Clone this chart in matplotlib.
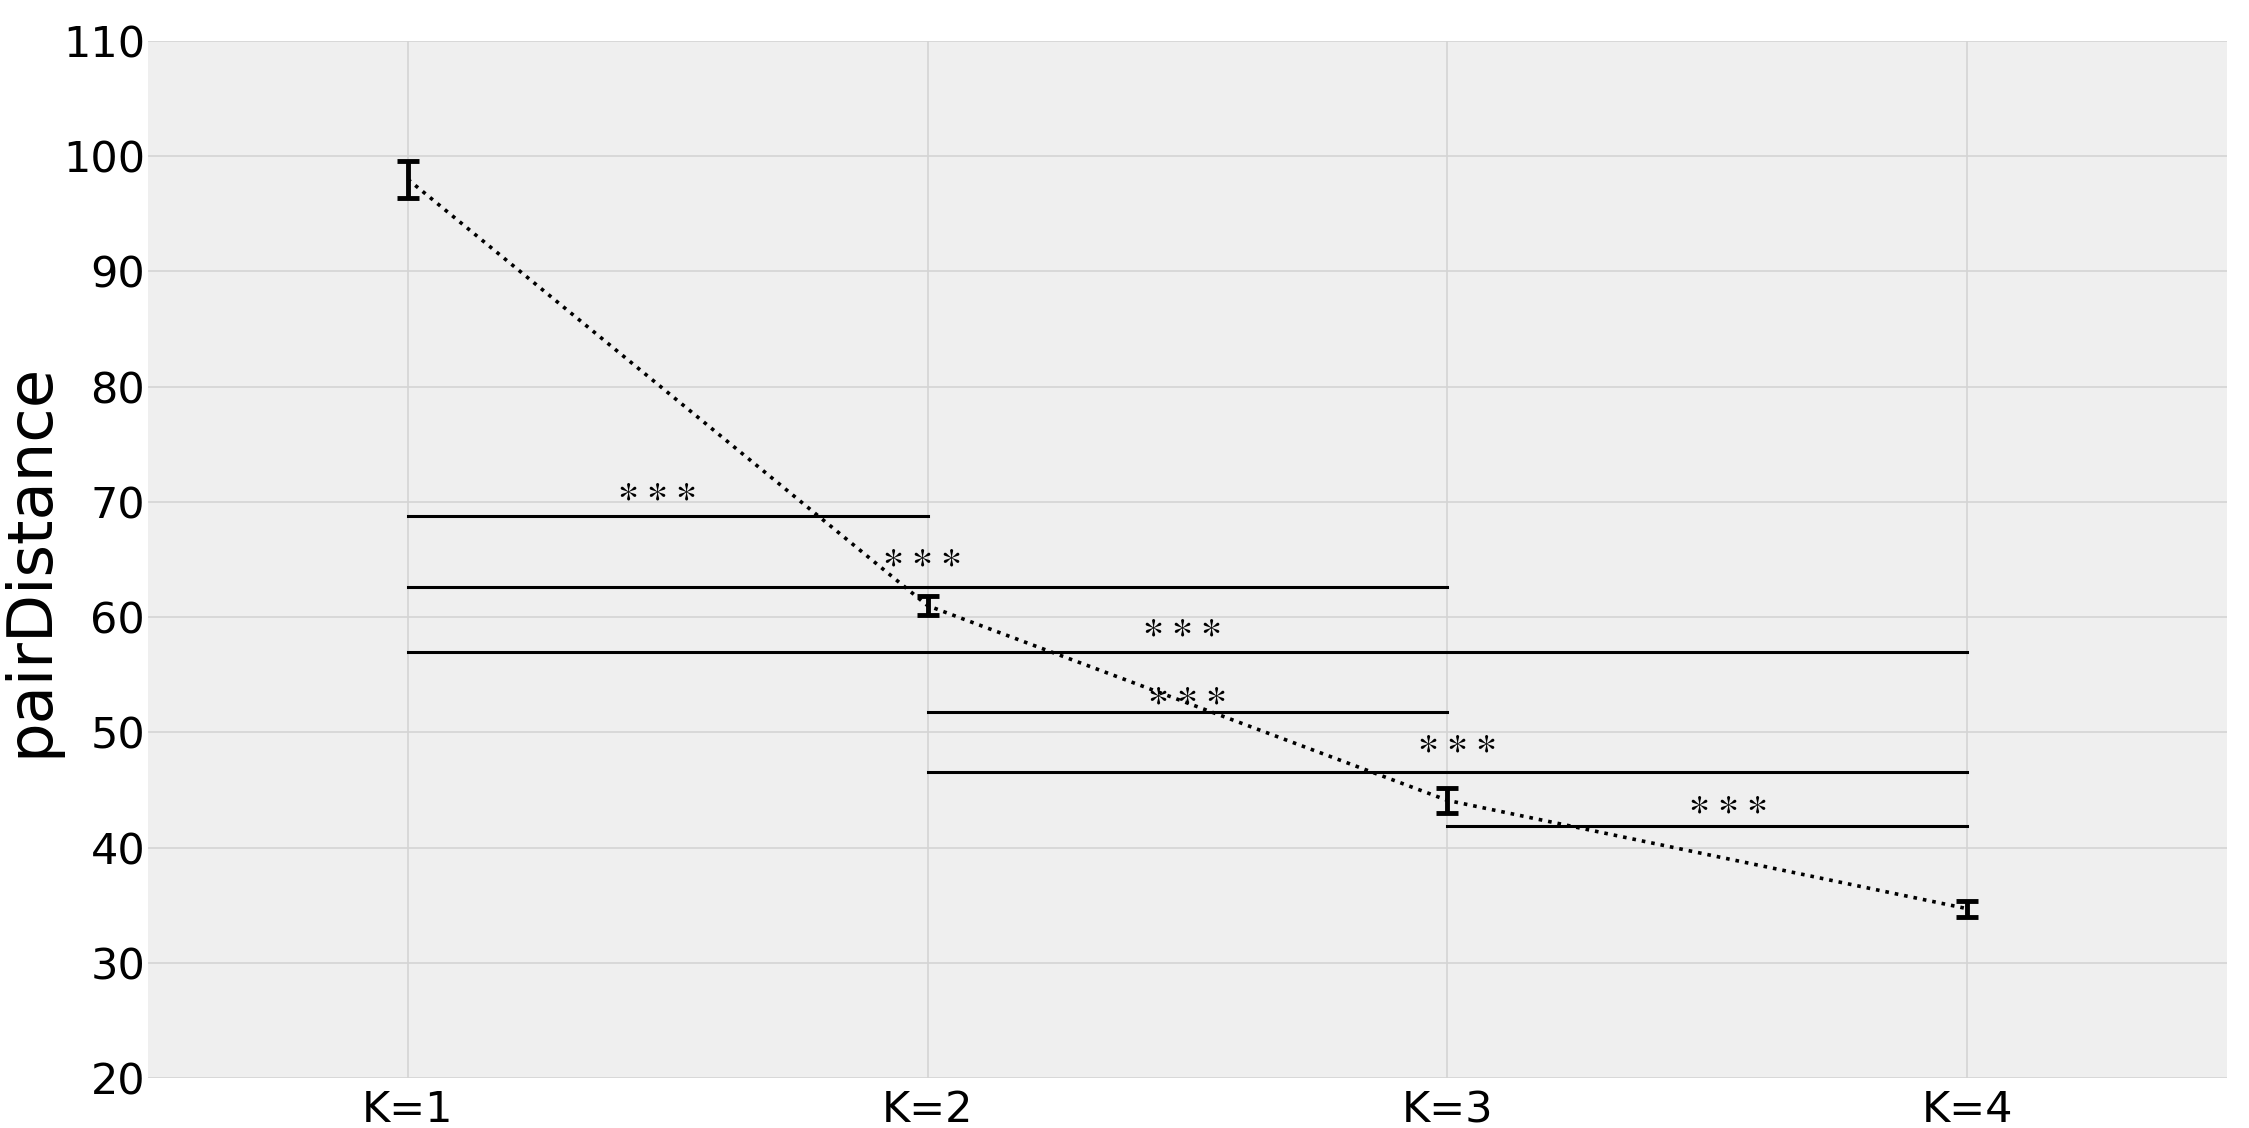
import matplotlib
matplotlib.use("Agg")
import matplotlib.pyplot as plt
import numpy as np

categories = ["K=1", "K=2", "K=3", "K=4"]
means = [98.0, 61.0, 44.1, 34.7]
errors = [1.6, 0.8, 1.1, 0.7]

# significance brackets: (start index, end index, level)
bracket_start = [0, 0, 0, 1, 1, 2]
bracket_end = [1, 2, 3, 2, 3, 3]
bracket_y = [68.8, 62.6, 57.0, 51.8, 46.6, 41.9]
bracket_label = ["***", "***", "***", "***", "***", "***"]
star_x = [1.48, 1.99, 2.49, 2.50, 3.02, 3.54]
star_y = [70.9, 65.1, 59.1, 53.2, 49.0, 43.7]

yticks = [20, 30, 40, 50, 60, 70, 80, 90, 100, 110]

fig = plt.figure(figsize=(22.49, 11.28), dpi=100)
ax = fig.add_axes([0.0658, 0.0443, 0.9244, 0.9193])
ax.set_facecolor("#efefef")
for s in ax.spines.values():
    s.set_visible(False)

x = np.arange(1, len(categories) + 1)
ax.errorbar(x, means, yerr=errors, fmt="none", ecolor="black",
            elinewidth=3.5, capsize=8, capthick=3.5, zorder=3)
ax.plot(x, means, linestyle=":", color="black", linewidth=2.6, zorder=3)

for s0, s1, yv, lab, sx, sy in zip(bracket_start, bracket_end, bracket_y,
                                   bracket_label, star_x, star_y):
    xs = [x[s0], x[s1]]
    ax.plot(xs, [yv, yv], color="black", linewidth=2.2, zorder=2)
    glyphs = "\u2009".join("\u2217" for _ in lab)
    ax.annotate(glyphs, (sx, sy), xytext=(0, 3), textcoords="offset points",
                ha="center", va="center_baseline", fontsize=29,
                family=["STIXGeneral", "DejaVu Sans"], color="black")

ax.set_xlim(0.5, 4.5)
ax.set_ylim(20, 110)
ax.set_xticks(x)
ax.set_xticklabels(categories)
ax.set_yticks(yticks)
ax.tick_params(axis="both", length=0, labelsize=31)
ax.tick_params(axis="y", pad=2)
ax.tick_params(axis="x", pad=8)
ax.grid(True, color="#d4d4d4", linewidth=1.2)
ax.set_axisbelow(True)
ax.set_ylabel("pairDistance", fontsize=45, labelpad=2)

fig.savefig("out.png", dpi=100, facecolor="white")
